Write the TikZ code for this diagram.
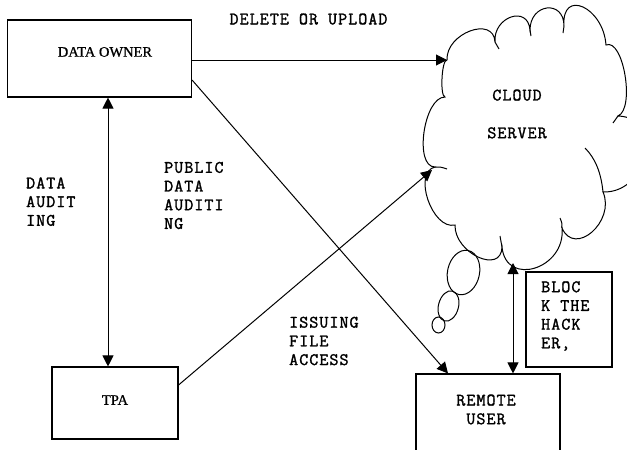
\documentclass[tikz,border=0pt]{standalone}
\usepackage{fontspec}
\setmainfont{Liberation Serif}
\newfontfamily\monofont{Latin Modern Mono}[LetterSpace=6,FakeBold=1.6]
\newfontfamily\boxfont{Liberation Serif}[FakeBold=0.8]
\usetikzlibrary{arrows.meta}
\begin{document}
\begin{tikzpicture}[x=1pt,y=-1pt,
  box/.style={draw, line width=1.1pt, inner sep=0pt},
  lbl/.style={font=\monofont\fontsize{17.5}{18.7}\selectfont, inner sep=0pt, align=left},
  serif/.style={font=\boxfont\fontsize{14.5}{16}\selectfont, inner sep=0pt},
  tip/.tip={Triangle[length=11pt,width=11pt]},
  arr/.style={line width=1pt, -tip},
  dbl/.style={line width=1pt, tip-tip},
  puff/.style={line width=1pt}
]
\useasboundingbox (0,0) rectangle (627,450);
\clip (0,0) rectangle (627,450);

% boxes
\node[box, minimum width=184pt, minimum height=77pt] (owner) at (99.5,58.5) {};
\node[serif] (ownertxt) at (105,52) {DATA OWNER};
\node[box, minimum width=126pt, minimum height=72pt] (tpa) at (115,403) {};
\node[serif] (tpatxt) at (115,400) {TPA};
\node[box, minimum width=144pt, minimum height=90pt] (remote) at (488,419) {};
\node[lbl, align=center] (remotetxt) at (486,409.5) {REMOTE\\USER};
\node[box, minimum width=86pt, minimum height=95pt] (block) at (569,319.5) {};
\node[lbl, anchor=west] (blocktxt) at (541,316) {BLOC\\K THE\\HACK\\ER,};

% labels
\node[lbl] (deltxt) at (308.5,19) {DELETE OR UPLOAD};
\node[lbl, anchor=west] (audtxt) at (26,201.7) {DATA\\AUDIT\\ING};
\node[lbl, anchor=west] (pubtxt) at (164,195.5) {PUBLIC\\DATA\\AUDITI\\NG};
\node[lbl, anchor=west] (isstxt) at (289,341) {ISSUING\\FILE\\ACCESS};

% cloud outline: cusps between puffs
\coordinate (cA) at (447,60);
\coordinate (cB) at (495,42);
\coordinate (cC) at (530,30);
\coordinate (cD) at (564,26);
\coordinate (cE) at (606,45);
\coordinate (cF) at (618,116);
\coordinate (cG) at (603,192);
\coordinate (cH) at (562,228);
\coordinate (cI) at (502,247);
\coordinate (cJ) at (455,225);
\coordinate (cK) at (435,167);
\coordinate (cL) at (445,97);
\coordinate (cT) at (432,170);
\coordinate (cR) at (513,263);

\draw[puff] (cA) .. controls (445.7,33.3) and (493.7,15.3) .. (cB)
  .. controls (493,16.7) and (528,4.7) .. (cC)
  .. controls (530,3.3) and (564,-0.7) .. (cD)
  .. controls (561.3,-12) and (603.3,7) .. (cE)
  .. controls (623.3,37.7) and (635.3,108.7) .. (cF)
  .. controls (664,117.3) and (649,193.3) .. (cG)
  .. controls (615.7,221.3) and (574.7,257.3) .. (cH)
  .. controls (566,268.7) and (506,287.7) .. (cI)
  .. controls (501.3,275) and (454.3,253) .. (cJ)
  .. controls (432.3,230.3) and (412.3,172.3) .. (cK)
  .. controls (413.7,167) and (423.7,97) .. (cL)
  .. controls (439.7,96.3) and (441.7,59.3) .. (cA);

% short inner tails where the puffs overlap
\draw[puff] (cB) .. controls (497,45) .. (499,49);
\draw[puff] (cC) .. controls (531,33) .. (531,36);
\draw[puff] (cD) .. controls (564,30) .. (563,33);
\draw[puff] (cF) .. controls (616,120) .. (613,123);
\draw[puff] (cG) .. controls (601,172) and (595,158) .. (585,148);
\draw[puff] (cH) .. controls (562,223) .. (560,218);
\draw[puff] (cI) .. controls (501,241) .. (500,236);
\draw[puff] (cK) .. controls (441,167) .. (447,169);

% thought bubbles
\draw[puff, rotate around={-12:(463.5,272.5)}] (463.5,272.5) ellipse [x radius=16pt, y radius=22.5pt];
\draw[puff, rotate around={-15:(448.5,306)}] (448.5,306) ellipse [x radius=10pt, y radius=15.5pt];
\draw[puff] (438.5,325) ellipse [x radius=6.5pt, y radius=8pt];

\node[lbl, align=center] (cloudtxt) at (517,114) {CLOUD\\[19pt]SERVER};

% connectors
\coordinate (ax) at (108,0);
\draw[arr] (owner.east |- cA) -- (cA);
\draw[dbl] (owner.south -| ax) -- (tpa.north -| ax);
\draw[arr] ([yshift=-21.5pt]owner.east) -- ([xshift=-40pt]remote.north);
\draw[arr] ([yshift=18pt]tpa.east) -- (cT);
\draw[dbl] (cR) -- ([xshift=25pt]remote.north);
\end{tikzpicture}
\end{document}
